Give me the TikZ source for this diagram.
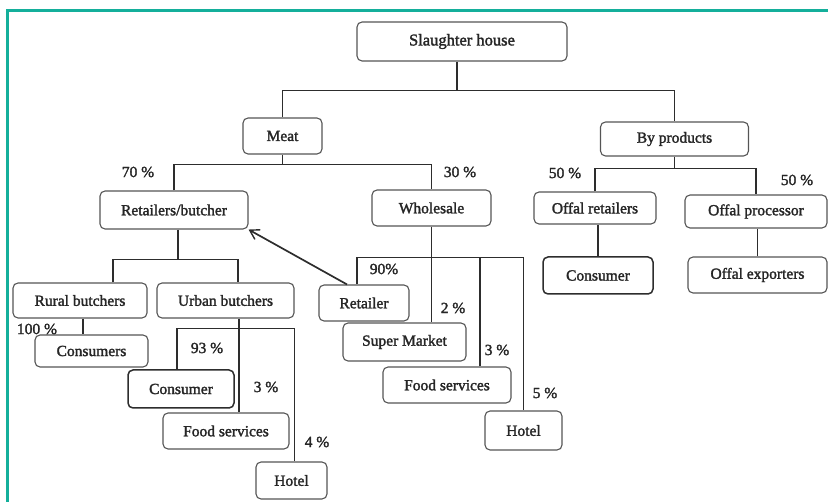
\documentclass[tikz,border=0pt]{standalone}
\usepackage{fontspec}
\setmainfont{Liberation Serif}[FakeBold=1.8]
\usetikzlibrary{arrows.meta}
\definecolor{frameteal}{RGB}{20,175,155}
\definecolor{boxline}{RGB}{85,85,85}
\definecolor{conn}{RGB}{45,45,45}
\tikzset{
  box/.style={draw=boxline, line width=1.1pt, rounded corners=5pt, fill=white,
    inner sep=0pt, text=black!85, font=\fontsize{15.5}{17}\selectfont},
  darkbox/.style={box, draw=conn, line width=1.5pt},
  link/.style={draw=conn, line width=1.7pt},
  pct/.style={inner sep=0pt, text=black!85, font=\fontsize{15.5}{17}\selectfont}
}
\begin{document}
\begin{tikzpicture}[x=1pt, y=-1pt]
\useasboundingbox (0,0) rectangle (828,502);
% frame
\draw[frameteal, line width=3pt] (7,510) -- (7,11) -- (840,11);

% nodes
\node[box, minimum width=210pt, minimum height=39pt, font=\fontsize{16.5}{18}\selectfont] (sh) at (462,41.5) {Slaughter house};
\node[box, minimum width=79pt, minimum height=36pt] (meat) at (282.5,136) {Meat};
\node[box, minimum width=148pt, minimum height=34pt] (byp) at (674.5,139) {By products};
\node[box, minimum width=148pt, minimum height=38pt] (rb) at (174,210) {Retailers/butcher};
\node[box, minimum width=119pt, minimum height=36pt] (ws) at (431.5,208) {Wholesale};
\node[box, minimum width=122pt, minimum height=32pt] (ofr) at (595,208) {Offal retailers};
\node[box, minimum width=142pt, minimum height=33pt] (ofp) at (756,211.5) {Offal processor};
\node[darkbox, minimum width=110pt, minimum height=37pt] (oc) at (598,275.5) {Consumer};
\node[box, minimum width=139pt, minimum height=36pt] (ofe) at (757.5,275) {Offal exporters};
\node[box, minimum width=134pt, minimum height=35pt] (rub) at (80,300.5) {Rural butchers};
\node[box, minimum width=137pt, minimum height=35pt] (ub) at (225.5,300.5) {Urban butchers};
\node[box, minimum width=113pt, minimum height=32pt] (cons) at (91.5,351) {Consumers};
\node[darkbox, minimum width=106pt, minimum height=38pt] (ucon) at (181,389) {Consumer};
\node[box, minimum width=126pt, minimum height=36pt] (ufs) at (226,431) {Food services};
\node[box, minimum width=71pt, minimum height=37pt] (uh) at (291.5,480.5) {Hotel};
\node[box, minimum width=90pt, minimum height=36pt] (ret) at (364,303) {Retailer};
\node[box, minimum width=123pt, minimum height=38pt] (sm) at (404.5,342) {Super Market};
\node[box, minimum width=128pt, minimum height=36pt] (wfs) at (447,385) {Food services};
\node[box, minimum width=77pt, minimum height=39pt] (wh) at (523.5,430.5) {Hotel};

% junction points
\path ([xshift=-5pt]sh.south) ++(0,29) coordinate (j1);
\path (meat.south) ++(0,10) coordinate (j2);
\path (byp.south) ++(0,12) coordinate (j3);
\path ([xshift=4pt]rb.south) ++(0,30) coordinate (j4);
\path (ub.south east) ++(0,10) coordinate (j5);
\path (ws.south) ++(0,31) coordinate (j6);

% connectors
\draw[link] ([xshift=-5pt]sh.south) -- (j1);
\draw[link] (meat.north) |- (j1) -| (byp.north);
\draw[link] (meat.south) -- (j2);
\draw[link] (rb.north) |- (j2) -| (ws.north);
\draw[link] (byp.south) -- (j3);
\draw[link] (ofr.north) |- (j3) -| (ofp.north);
\draw[link] (oc.north) -- (oc.north |- ofr.south);
\draw[link] (ofe.north) -- (ofe.north |- ofp.south);
\draw[link] ([xshift=4pt]rb.south) -- (j4);
\draw[link] ([xshift=33pt]rub.north) |- (j4) -| ([xshift=12.5pt]ub.north);
\draw[link] ([xshift=3pt]rub.south) -- ([xshift=3pt]rub.south |- cons.north);
\draw[link] ([xshift=13.5pt]ub.south) -- ([xshift=13.5pt]ub.south |- ufs.north);
\draw[link] ([xshift=-4pt]ucon.north) |- (j5) -- (j5 |- uh.north);
\draw[link] (ws.south) -- (ws.south |- sm.north);
\draw[link] ([xshift=-7pt]ret.north) |- (j6) -| (wh.north);
\draw[link] ([xshift=33pt]wfs.north) -- ([xshift=33pt]wfs.north |- j6);
\draw[link, -{Straight Barb[length=9pt, width=11pt, line width=1.4pt]}] ([xshift=-17pt]ret.north) -- (rb.south east);

% percentages
\node[pct] (p70) at (138,172) {70 \%};
\node[pct] (p30) at (460,172) {30 \%};
\node[pct] (p50a) at (565,173) {50 \%};
\node[pct] (p50b) at (797,180) {50 \%};
\node[pct] (p100) at (37,329) {100 \%};
\node[pct] (p93) at (207,348) {93 \%};
\node[pct] (p3a) at (266,387) {3 \%};
\node[pct] (p4) at (317,442) {4 \%};
\node[pct] (p90) at (384,269) {90\%};
\node[pct] (p2) at (453,308) {2 \%};
\node[pct] (p3b) at (497,350) {3 \%};
\node[pct] (p5) at (545,393) {5 \%};
\end{tikzpicture}
\end{document}
